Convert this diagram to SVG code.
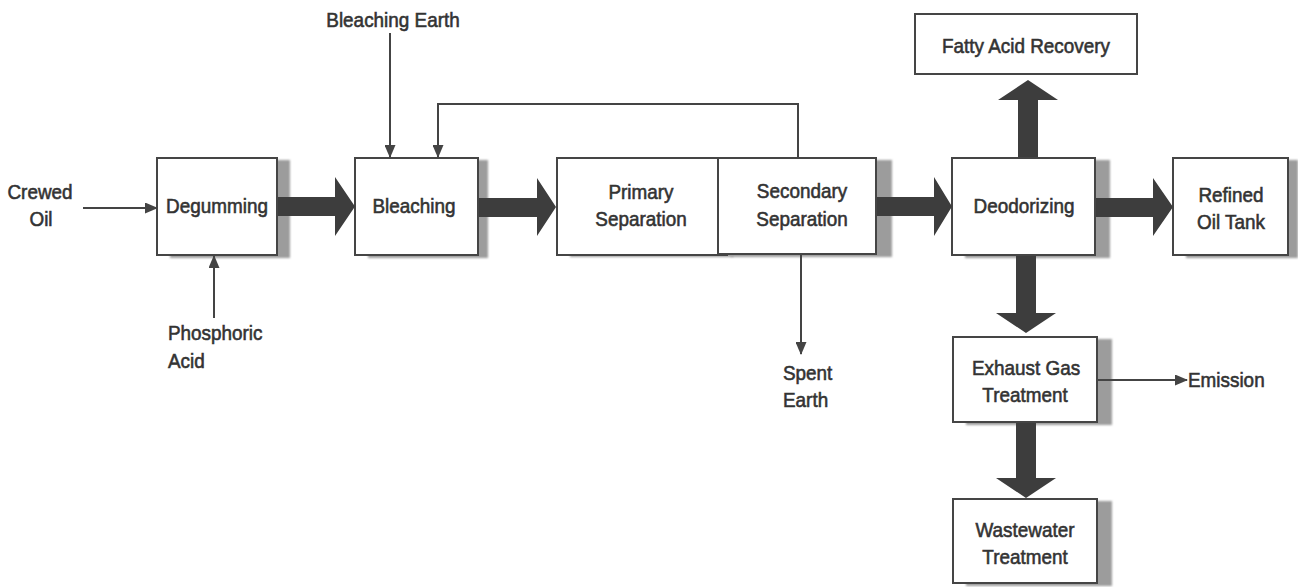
<svg xmlns="http://www.w3.org/2000/svg" width="1298" height="587" viewBox="0 0 1298 587">
  <style>
    .box { fill: #ffffff; stroke: #454545; stroke-width: 2; }
    .shadow { fill: #9c9c9c; filter: url(#soft); }
    .t { font-family: "Liberation Sans", Arial, sans-serif; font-size: 21px; fill: #333333; stroke: #333333; stroke-width: 0.6; }
    .c { text-anchor: middle; }
    .thin-arrow { fill: none; stroke: #444444; stroke-width: 2; marker-end: url(#head); }
    .thick { fill: #3d3d3d; }
  </style>
  <defs>
    <filter id="soft" x="-10%" y="-10%" width="120%" height="120%">
      <feGaussianBlur stdDeviation="1.2"/>
    </filter>
    <marker id="head" markerWidth="13" markerHeight="11" refX="12" refY="5.5" orient="auto" markerUnits="userSpaceOnUse">
      <path d="M0,0 L13,5.5 L0,11 Z" fill="#444444"/>
    </marker>
  </defs>

  <rect width="1298" height="587" fill="#ffffff"/>

  <!-- free labels -->
  <g id="labels">
    <text class="t c" transform="translate(40 199) scale(0.9 1)">Crewed</text>
    <text class="t c" transform="translate(41 226) scale(0.9 1)">Oil</text>
    <text class="t c" transform="translate(393 27) scale(0.9 1)">Bleaching Earth</text>
    <text class="t" transform="translate(168 340) scale(0.9 1)">Phosphoric</text>
    <text class="t" transform="translate(168 368) scale(0.9 1)">Acid</text>
    <text class="t" transform="translate(783 380) scale(0.9 1)">Spent</text>
    <text class="t" transform="translate(783 407) scale(0.9 1)">Earth</text>
    <text class="t" transform="translate(1188 387) scale(0.9 1)">Emission</text>
  </g>

  <g id="degumming">
    <rect class="shadow" x="170" y="160" width="120" height="98"/>
    <rect class="box" x="157" y="158" width="120" height="97"/>
    <text class="t c" transform="translate(217 213) scale(0.9 1)">Degumming</text>
  </g>

  <g id="bleaching">
    <rect class="shadow" x="368" y="160" width="120" height="98"/>
    <rect class="box" x="355" y="158" width="123" height="97"/>
    <text class="t c" transform="translate(414 213) scale(0.9 1)">Bleaching</text>
  </g>

  <g id="primary-separation">
    <rect class="shadow" x="570" y="160" width="163" height="97"/>
    <rect class="box" x="557" y="158" width="170" height="97"/>
    <text class="t c" transform="translate(641 199) scale(0.9 1)">Primary</text>
    <text class="t c" transform="translate(641 226) scale(0.9 1)">Separation</text>
  </g>

  <g id="secondary-separation">
    <rect class="shadow" x="731" y="160" width="161" height="97"/>
    <rect class="box" x="718" y="158" width="158" height="96"/>
    <text class="t c" transform="translate(802 198) scale(0.9 1)">Secondary</text>
    <text class="t c" transform="translate(802 226) scale(0.9 1)">Separation</text>
  </g>

  <g id="deodorizing">
    <rect class="shadow" x="965" y="160" width="145" height="98"/>
    <rect class="box" x="952" y="158" width="143" height="97"/>
    <text class="t c" transform="translate(1024 213) scale(0.9 1)">Deodorizing</text>
  </g>

  <g id="refined-oil-tank">
    <rect class="shadow" x="1186" y="160" width="112" height="98"/>
    <rect class="box" x="1173" y="158" width="115" height="97"/>
    <text class="t c" transform="translate(1231 202) scale(0.9 1)">Refined</text>
    <text class="t c" transform="translate(1231 229) scale(0.9 1)">Oil Tank</text>
  </g>

  <g id="fatty-acid-recovery">
    <rect class="box" x="915" y="14" width="222" height="60"/>
    <text class="t c" transform="translate(1026 53) scale(0.9 1)">Fatty Acid Recovery</text>
  </g>

  <g id="exhaust-gas-treatment">
    <rect class="shadow" x="966" y="339" width="146" height="86"/>
    <rect class="box" x="953" y="337" width="144" height="85"/>
    <text class="t c" transform="translate(1026 375) scale(0.9 1)">Exhaust Gas</text>
    <text class="t c" transform="translate(1025 402) scale(0.9 1)">Treatment</text>
  </g>

  <g id="wastewater-treatment">
    <rect class="shadow" x="966" y="501" width="146" height="85"/>
    <rect class="box" x="953" y="499" width="144" height="84"/>
    <text class="t c" transform="translate(1025 537) scale(0.9 1)">Wastewater</text>
    <text class="t c" transform="translate(1025 564) scale(0.9 1)">Treatment</text>
  </g>

  <!-- connectors, drawn last so the thick arrows sit over the box shadows -->
  <g id="connectors">
    <!-- thin feed and by-product lines -->
    <line class="thin-arrow" x1="83" y1="208" x2="157" y2="208"/>
    <line class="thin-arrow" x1="214" y1="318" x2="214" y2="256"/>
    <line class="thin-arrow" x1="390" y1="33" x2="390" y2="157"/>
    <polyline class="thin-arrow" points="798,158 798,104 438,104 438,157"/>
    <line class="thin-arrow" x1="801" y1="255" x2="801" y2="354"/>
    <line class="thin-arrow" x1="1098" y1="380" x2="1187" y2="380"/>

    <!-- main product flow (thick arrows) -->
    <polygon class="thick" points="278,197 335,197 335,177 355,206.5 335,236 335,216 278,216"/>
    <polygon class="thick" points="479,198 537,198 537,178 556,207 537,236 537,217 479,217"/>
    <polygon class="thick" points="877,197 934,197 934,177 952,206.5 934,236 934,216 877,216"/>
    <polygon class="thick" points="1096,198 1153,198 1153,178 1173,207 1153,236 1153,217 1096,217"/>
    <polygon class="thick" points="1018,157 1018,100 998,100 1028,80 1058,100 1038,100 1038,157"/>
    <polygon class="thick" points="1016,256 1016,313 996,313 1026,333 1056,313 1036,313 1036,256"/>
    <polygon class="thick" points="1016,423 1016,478 996,478 1026,498 1056,478 1036,478 1036,423"/>
  </g>
</svg>
